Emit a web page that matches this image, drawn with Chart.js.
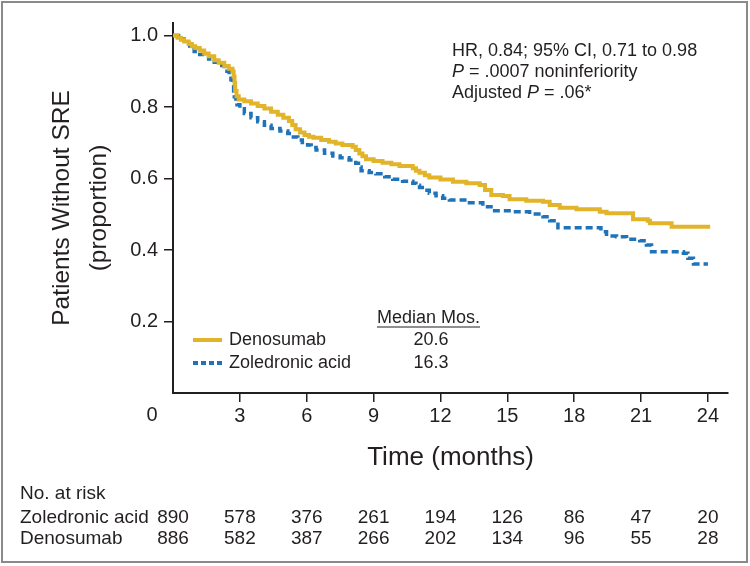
<!DOCTYPE html>
<html>
<head>
<meta charset="utf-8">
<script src="https://cdn.jsdelivr.net/npm/chart.js@4.4.1/dist/chart.umd.min.js"></script>
<style>
  html, body { margin: 0; padding: 0; background: #fff; }
  #wrap { width: 750px; height: 566px; }
</style>
</head>
<body>
<div id="wrap"><canvas id="km" width="750" height="566"></canvas></div>
<script>
// KM estimates (months, proportion without SRE)
const denosumabTime = [0, 0.2, 0.35, 0.5, 0.7, 0.85, 1.0, 1.2, 1.4, 1.6, 1.85, 2.05, 2.3, 2.5, 2.67, 2.72, 2.76, 2.79, 2.85, 2.95, 3.2, 3.5, 3.8, 4.1, 4.4, 4.7, 4.95, 5.2, 5.35, 5.5, 5.7, 5.9, 6.1, 6.3, 6.65, 7.0, 7.3, 7.6, 8.06, 8.2, 8.36, 8.5, 8.66, 9.0, 9.4, 9.8, 10.16, 10.76, 10.9, 11.06, 11.3, 11.5, 12.0, 12.56, 13.16, 13.76, 14.0, 14.28, 14.8, 15.1, 15.85, 16.6, 16.9, 17.35, 18.1, 19.15, 19.45, 20.64, 21.3, 21.4, 22.37, 24.1];
const denosumabSurv = [1.0, 0.994, 0.988, 0.983, 0.976, 0.970, 0.965, 0.958, 0.950, 0.942, 0.931, 0.924, 0.915, 0.907, 0.899, 0.885, 0.868, 0.845, 0.830, 0.821, 0.816, 0.810, 0.803, 0.796, 0.787, 0.778, 0.770, 0.761, 0.750, 0.738, 0.729, 0.722, 0.717, 0.714, 0.708, 0.703, 0.698, 0.694, 0.689, 0.680, 0.670, 0.662, 0.654, 0.649, 0.644, 0.640, 0.635, 0.629, 0.622, 0.616, 0.609, 0.603, 0.597, 0.591, 0.587, 0.582, 0.568, 0.554, 0.551, 0.542, 0.538, 0.535, 0.526, 0.518, 0.514, 0.507, 0.503, 0.486, 0.482, 0.475, 0.465, 0.465];

const zoledronicTime = [0, 0.25, 0.5, 0.75, 0.95, 1.2, 1.4, 1.6, 1.85, 2.1, 2.3, 2.42, 2.52, 2.6, 2.67, 2.72, 2.75, 2.82, 2.87, 3.0, 3.2, 3.5, 3.8, 4.1, 4.4, 4.8, 5.15, 5.4, 5.6, 5.8, 6.04, 6.2, 6.42, 6.8, 7.17, 7.5, 7.9, 8.2, 8.32, 8.44, 8.8, 9.1, 9.5, 9.86, 10.3, 10.76, 10.9, 11.06, 11.3, 11.5, 11.8, 12.1, 12.4, 13.3, 13.9, 14.43, 15.25, 16.0, 16.6, 16.9, 17.27, 19.2, 19.45, 19.9, 20.35, 20.94, 21.24, 21.47, 22.9, 23.1, 23.35, 24.0];
const zoledronicSurv = [1.0, 0.990, 0.978, 0.965, 0.955, 0.947, 0.941, 0.934, 0.925, 0.916, 0.908, 0.900, 0.890, 0.876, 0.861, 0.845, 0.829, 0.815, 0.806, 0.795, 0.782, 0.770, 0.759, 0.749, 0.740, 0.733, 0.726, 0.716, 0.708, 0.701, 0.694, 0.687, 0.680, 0.671, 0.663, 0.658, 0.652, 0.643, 0.632, 0.622, 0.617, 0.613, 0.605, 0.598, 0.592, 0.587, 0.581, 0.575, 0.567, 0.559, 0.552, 0.545, 0.540, 0.532, 0.521, 0.510, 0.507, 0.501, 0.493, 0.482, 0.462, 0.451, 0.439, 0.437, 0.430, 0.426, 0.414, 0.395, 0.391, 0.377, 0.361, 0.361];

const xTickValues = [3, 6, 9, 12, 15, 18, 21, 24];
const yTickValues = [0.2, 0.4, 0.6, 0.8, 1.0];

const atRiskTimes = [0, 3, 6, 9, 12, 15, 18, 21, 24];
const atRiskZoledronic = [890, 578, 376, 261, 194, 126, 86, 47, 20];
const atRiskDenosumab = [886, 582, 387, 266, 202, 134, 96, 55, 28];

const seriesNames = ['Denosumab', 'Zoledronic acid'];
const medianMonths = ['20.6', '16.3'];

const SANS = '"Liberation Sans", Arial, sans-serif';
const INK = '#231f20';

// stats box, italic P where the figure has it
const statLines = [
  [{ text: 'HR, 0.84; 95% CI, 0.71 to 0.98' }],
  [{ text: 'P', italic: true }, { text: ' = .0007 noninferiority' }],
  [{ text: 'Adjusted ' }, { text: 'P', italic: true }, { text: ' = .06*' }]
];

function drawRuns(ctx, runs, x, y, size) {
  let cx = x;
  runs.forEach(r => {
    ctx.font = (r.italic ? 'italic ' : '') + size + 'px ' + SANS;
    ctx.fillText(r.text, cx, y);
    cx += ctx.measureText(r.text).width;
  });
}

const extras = {
  id: 'extras',
  beforeDraw(chart) {
    const ctx = chart.ctx;
    ctx.save();
    ctx.strokeStyle = '#8a8a8a';
    ctx.lineWidth = 2;
    ctx.strokeRect(2, 2, 745, 560);
    ctx.restore();
  },
  afterDraw(chart) {
    const ctx = chart.ctx;
    const xs = chart.scales.x;
    const ds = chart.data.datasets;
    ctx.save();
    ctx.fillStyle = INK;
    ctx.textBaseline = 'middle';

    // origin label
    ctx.font = '20px ' + SANS;
    ctx.textAlign = 'center';
    ctx.fillText('0', 152, 415);

    // stats text
    ctx.textAlign = 'left';
    statLines.forEach((runs, i) => drawRuns(ctx, runs, 452, 51 + i * 21, 18));

    // legend + medians
    const rows = [340, 363];
    ds.forEach((d, i) => {
      ctx.strokeStyle = d.borderColor;
      ctx.lineWidth = 4;
      ctx.setLineDash(d.borderDash ? [5, 3] : []);
      ctx.beginPath();
      ctx.moveTo(193, rows[i]);
      ctx.lineTo(222, rows[i]);
      ctx.stroke();
      ctx.setLineDash([]);
      ctx.font = '18px ' + SANS;
      ctx.textAlign = 'left';
      ctx.fillText(seriesNames[i], 229, rows[i]);
      ctx.textAlign = 'center';
      ctx.fillText(medianMonths[i], 431, rows[i]);
    });
    ctx.font = '18px ' + SANS;
    ctx.textAlign = 'left';
    ctx.fillText('Median Mos.', 377, 318);
    const w = ctx.measureText('Median Mos.').width;
    ctx.strokeStyle = INK;
    ctx.lineWidth = 1.2;
    ctx.beginPath();
    ctx.moveTo(377, 327);
    ctx.lineTo(377 + w, 327);
    ctx.stroke();

    // number at risk
    ctx.font = '19px ' + SANS;
    ctx.textAlign = 'left';
    ctx.fillText('No. at risk', 20, 494);
    ctx.fillText('Zoledronic acid', 20, 518);
    ctx.fillText('Denosumab', 20, 539);
    ctx.textAlign = 'center';
    atRiskTimes.forEach((t, i) => {
      const px = xs.getPixelForValue(t);
      ctx.fillText(String(atRiskZoledronic[i]), px, 518);
      ctx.fillText(String(atRiskDenosumab[i]), px, 539);
    });
    ctx.restore();
  }
};

new Chart(document.getElementById('km'), {
  type: 'line',
  data: {
    datasets: [
      {
        label: seriesNames[0],
        data: denosumabTime.map((t, i) => ({ x: t, y: denosumabSurv[i] })),
        borderColor: '#e2b42a',
        borderWidth: 4,
        stepped: true,
        pointRadius: 0,
        fill: false
      },
      {
        label: seriesNames[1],
        data: zoledronicTime.map((t, i) => ({ x: t, y: zoledronicSurv[i] })),
        borderColor: '#1f73b8',
        borderWidth: 3.5,
        borderDash: [7, 4],
        stepped: true,
        pointRadius: 0,
        fill: false
      }
    ]
  },
  options: {
    responsive: false,
    devicePixelRatio: 1,
    animation: false,
    layout: { padding: { top: 23, right: 22, left: 0, bottom: 0 } },
    plugins: { legend: { display: false }, tooltip: { enabled: false } },
    scales: {
      x: {
        type: 'linear',
        min: 0,
        max: 24.9,
        afterBuildTicks: s => { s.ticks = xTickValues.map(v => ({ value: v })); },
        afterFit: s => { s.height = 173; },
        grid: { drawOnChartArea: false, drawTicks: true, tickLength: 9, color: INK, lineWidth: 1.5 },
        border: { color: INK, width: 2 },
        ticks: { font: { family: SANS, size: 20 }, color: INK, padding: 2, maxRotation: 0, autoSkip: false },
        title: {
          display: true,
          text: 'Time (months)',
          color: INK,
          font: { family: SANS, size: 26, lineHeight: 1.2 },
          padding: { top: 0, bottom: 93 }
        }
      },
      y: {
        type: 'linear',
        min: 0,
        max: 1.035,
        afterBuildTicks: s => { s.ticks = yTickValues.map(v => ({ value: v })); },
        afterFit: s => { s.width = 173; },
        grid: { drawOnChartArea: false, drawTicks: true, tickLength: 9, color: INK, lineWidth: 1.5 },
        border: { color: INK, width: 2 },
        ticks: { font: { family: SANS, size: 20 }, color: INK, padding: 6, callback: v => v.toFixed(1) },
        title: {
          display: true,
          text: ['Patients Without SRE', '(proportion)'],
          color: INK,
          font: { family: SANS, size: 24.5, lineHeight: 1.5 },
          padding: { top: 44, bottom: 0 }
        }
      }
    }
  },
  plugins: [extras]
});
</script>
</body>
</html>
